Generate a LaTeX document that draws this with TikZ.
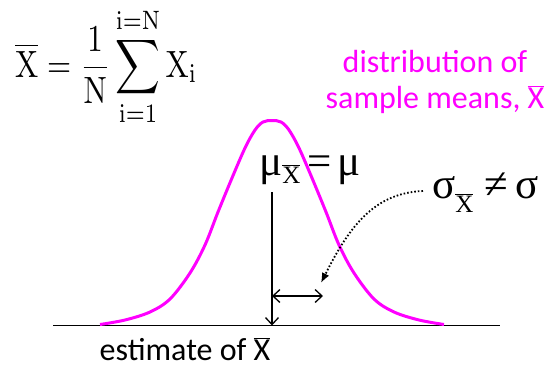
\documentclass[tikz,border=0pt]{standalone}
\usepackage[no-math]{fontspec}
\setmainfont{Carlito}
\newfontfamily\greekserif{Liberation Serif}
\usetikzlibrary{arrows.meta}
\definecolor{mag}{HTML}{FF00FF}
\tikzset{
  lbl/.style={inner sep=0pt, font=\fontsize{32}{36}\selectfont},
  symlbl/.style={inner sep=0pt, font=\greekserif\fontsize{43}{45}\selectfont},
  axisline/.style={line width=1.4pt, black},
  arr/.style={line width=1.3pt, black, -{Straight Barb[length=7pt,width=13pt,line width=1.3pt]}},
  darr/.style={line width=1.3pt, black, {Straight Barb[length=7pt,width=13pt,line width=1.3pt]}-{Straight Barb[length=7pt,width=13pt,line width=1.3pt]}},
  dotarr/.style={line width=1.8pt, black, dash pattern=on 1.6pt off 2pt, -{Latex[length=10pt,width=8pt]}},
  bell/.style={line width=3pt, mag}
}
\newcommand\xbarsub{$\overline{\hbox{X}}$}
\newcommand\xbarsubs{{\greekserif\fontsize{25}{25}\selectfont$\overline{\hbox{X}}$}}
\begin{document}
\begin{tikzpicture}[x=1pt,y=-1pt]
\useasboundingbox (0,0) rectangle (553,367);
% formula
\node[inner sep=0pt, anchor=base west] (formula) at (15,77)
  {\scalebox{3.1}[3.8]{$\displaystyle \overline{\mathrm{X}} = \frac{1}{\mathrm{N}}\sum_{\mathrm{i=1}}^{\mathrm{i=N}}\mathrm{X_i}$}};
% magenta labels
\node[lbl, mag, anchor=base] (dist1) at (435,72) {distribution of};
\node[lbl, mag, anchor=base] (dist2) at (435,108) {sample means, \xbarsub};
% baseline
\coordinate (bl) at (53,325.5);
\coordinate (br) at (500,325.5);
\draw[axisline] (bl) -- (br);
% bell curve
\draw[bell] plot[smooth, tension=0.55] coordinates {
 (100,324.5) (125,320) (150,312) (170,299) (190,273) (205,245) (218,212)
 (232,178) (245,148) (255,130) (263,122) (272,120.5) (281,122) (289,130)
 (299,148) (312,178) (326,212) (339,245) (354,273) (374,299) (394,312)
 (419,320) (444,324.5)};
% labels mu, sigma
\node[symlbl, anchor=base west] (mu) at (259,175) {μ\raisebox{-8pt}{\xbarsubs}\hspace{0.16em}=\hspace{0.14em}μ};
\node[symlbl, anchor=base west] (sigma) at (432,198) {σ\raisebox{-14pt}{\xbarsubs}\hspace{0.25em}≠\hspace{0.18em}σ};
% arrows
\coordinate (vtop) at (272,192);
\coordinate (mean) at (272,325.5);
\draw[arr] (vtop) -- (mean);
\coordinate (sl) at (272,296);
\coordinate (sr) at (323,296);
\draw[darr] (sl) -- (sr);
\coordinate (dotstart) at (423,191);
\coordinate (dottip) at (321,283);
\draw[dotarr] (dotstart) .. controls (375,193) and (350,225) .. (dottip);
% estimate
\node[lbl, anchor=base] (est) at (185,360) {estimate of \xbarsub};
\end{tikzpicture}
\end{document}
